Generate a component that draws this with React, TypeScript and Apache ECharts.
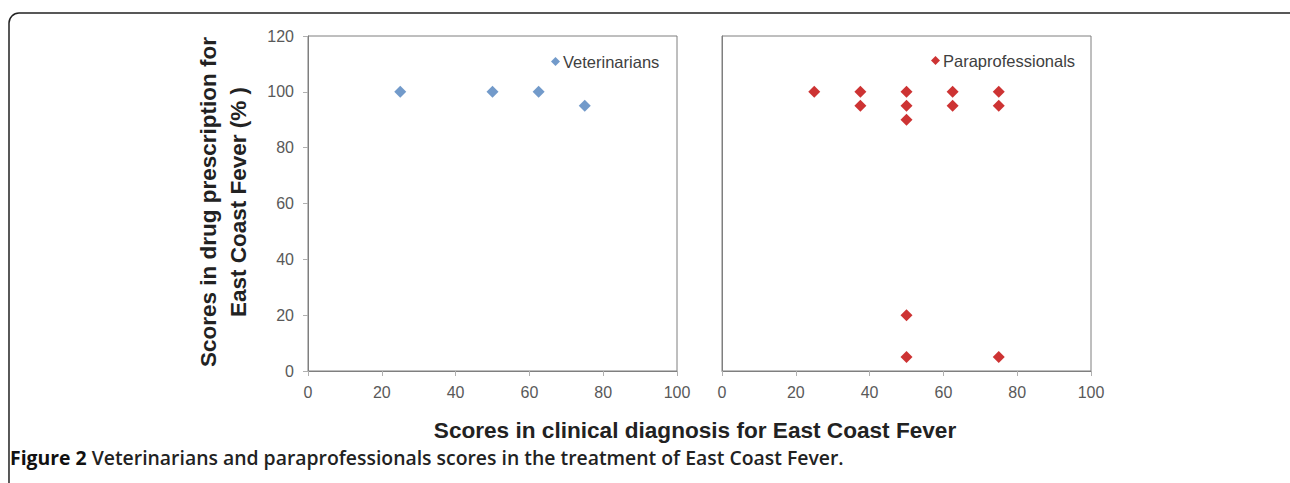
import React, { useEffect, useRef } from "react";
import * as echarts from "echarts";

const xTicks = [0, 20, 40, 60, 80, 100];
const yTicks = [0, 20, 40, 60, 80, 100, 120];

const vetScores: [number, number][] = [
  [25, 100],
  [50, 100],
  [62.5, 100],
  [75, 95],
];

const paraScores: [number, number][] = [
  [25, 100],
  [37.5, 100],
  [37.5, 95],
  [50, 100],
  [50, 95],
  [50, 90],
  [62.5, 100],
  [62.5, 95],
  [75, 100],
  [75, 95],
  [50, 20],
  [50, 5],
  [75, 5],
];

const yTitle = "Scores in drug prescription for\nEast Coast Fever (% )";
const xTitle = "Scores in clinical diagnosis for East Coast Fever";
const captionBold = "Figure 2";
const captionText = " Veterinarians and paraprofessionals scores in the treatment of East Coast Fever.";

export default function App() {
  const ref = useRef<HTMLDivElement>(null);
  useEffect(() => {
    document.body.style.margin = "0";
    const chart = echarts.init(ref.current!, null, { renderer: "svg" });
    const labelStyle = { color: "#595959", fontSize: 16, fontFamily: "Liberation Sans, Arial, sans-serif" };
    const xAxisBase = (gridIndex: number) => ({
      type: "value",
      gridIndex,
      min: xTicks[0],
      max: xTicks[xTicks.length - 1],
      interval: 20,
      axisLine: { show: true, lineStyle: { color: "#7f7f7f", width: 1 } },
      axisTick: { show: true, length: 5, lineStyle: { color: "#b0b0b0" } },
      axisLabel: { ...labelStyle, margin: 13 },
      splitLine: { show: false },
    });
    const yAxisBase = (gridIndex: number, showLabels: boolean) => ({
      type: "value",
      gridIndex,
      min: yTicks[0],
      max: yTicks[yTicks.length - 1],
      interval: 20,
      axisLine: { show: true, lineStyle: { color: "#7f7f7f", width: 1 } },
      axisTick: { show: showLabels, length: 5, lineStyle: { color: "#b0b0b0" } },
      axisLabel: { show: showLabels, ...labelStyle, margin: 14 },
      splitLine: { show: false },
    });
    const legendText = { color: "#404040", fontSize: 16.5, fontFamily: "Liberation Sans, Arial, sans-serif" };
    chart.setOption({
      animation: false,
      backgroundColor: "#ffffff",
      grid: [
        { left: 308, top: 36, width: 369, height: 335, show: true, borderColor: "#7f7f7f", borderWidth: 1 },
        { left: 722, top: 36, width: 369, height: 335, show: true, borderColor: "#7f7f7f", borderWidth: 1 },
      ],
      xAxis: [xAxisBase(0), xAxisBase(1)],
      yAxis: [yAxisBase(0, true), yAxisBase(1, false)],
      legend: [
        {
          data: [{ name: "Veterinarians", icon: "diamond" }],
          left: 546,
          top: 48,
          itemWidth: 9,
          itemHeight: 9,
          itemGap: 4,
          textStyle: { ...legendText, padding: [0, 0, 0, -2] },
        },
        {
          data: [{ name: "Paraprofessionals", icon: "diamond" }],
          left: 926,
          top: 47,
          itemWidth: 9,
          itemHeight: 9,
          textStyle: { ...legendText, padding: [0, 0, 0, -2] },
        },
      ],
      series: [
        {
          name: "Veterinarians",
          type: "scatter",
          xAxisIndex: 0,
          yAxisIndex: 0,
          symbol: "diamond",
          symbolSize: 12,
          itemStyle: { color: "#4f81bd" },
          data: vetScores,
        },
        {
          name: "Paraprofessionals",
          type: "scatter",
          xAxisIndex: 1,
          yAxisIndex: 1,
          symbol: "diamond",
          symbolSize: 12,
          itemStyle: { color: "#c00000" },
          data: paraScores,
        },
      ],
      graphic: [
        {
          type: "rect",
          shape: { x: 9, y: 13, width: 1300, height: 500, r: 10 },
          style: { fill: "none", stroke: "#222", lineWidth: 1.5 },
          silent: true,
        },
        {
          type: "text",
          x: 223,
          y: 202,
          rotation: Math.PI / 2,
          style: {
            text: yTitle,
            fill: "#222",
            font: "bold 22.5px Liberation Sans, Arial, sans-serif",
            align: "center",
            verticalAlign: "middle",
            lineHeight: 30,
          },
        },
        {
          type: "text",
          x: 695,
          y: 430,
          style: {
            text: xTitle,
            fill: "#222",
            font: "bold 22.6px Liberation Sans, Arial, sans-serif",
            align: "center",
            verticalAlign: "middle",
          },
        },
        {
          type: "text",
          x: 10,
          y: 457,
          style: {
            text: "{b|" + captionBold + "}{r|" + captionText + "}",
            verticalAlign: "middle",
            rich: {
              b: { fontWeight: "bold", fontSize: 19.4, fill: "#111", fontFamily: "Open Sans, sans-serif" },
              r: { fontWeight: 600, fontSize: 19.4, fill: "#222", fontFamily: "Open Sans, sans-serif" },
            },
          },
        },
      ],
    });
    return () => chart.dispose();
  }, []);
  return <div ref={ref} style={{ width: 1290, height: 483 }} />;
}
